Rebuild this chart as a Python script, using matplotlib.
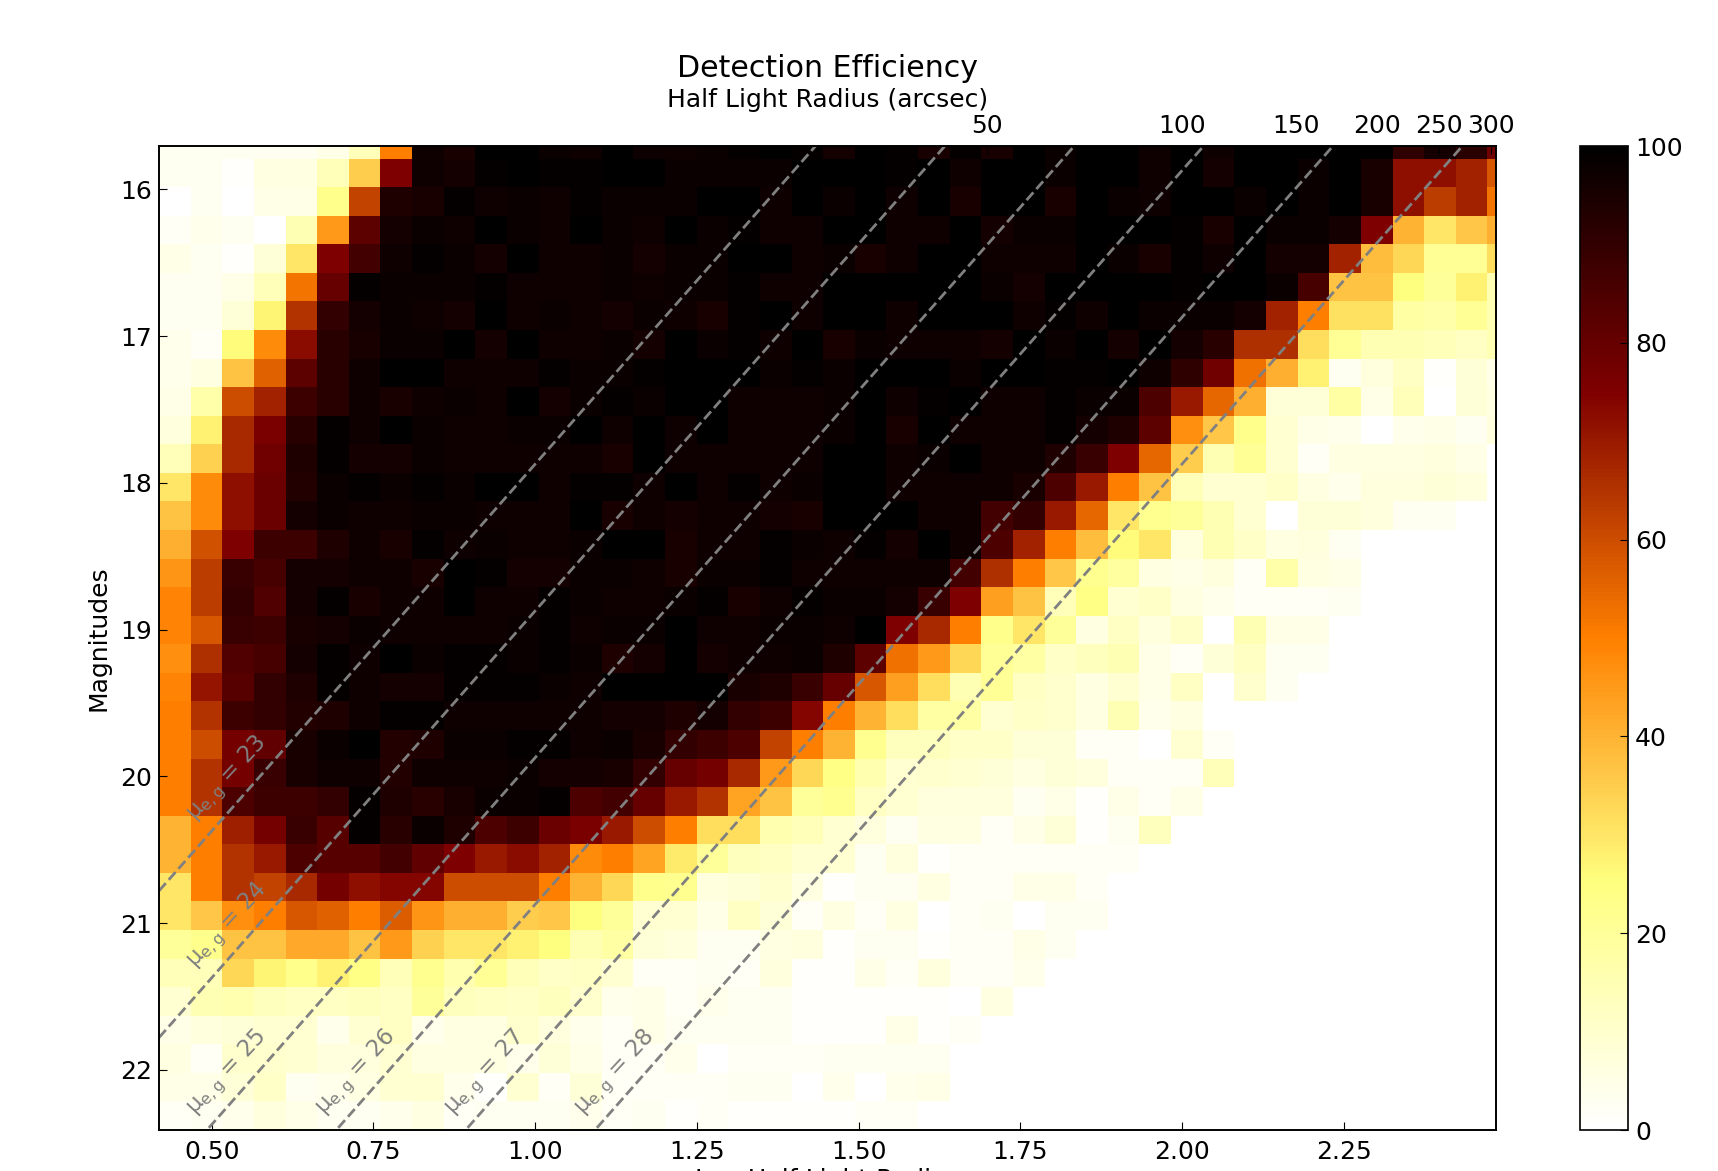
import numpy as np
import matplotlib
matplotlib.use('Agg')
import matplotlib.pyplot as plt

# Detection efficiency (percent), top row first
efficiency = np.array([
    [3,3,3,3,3,5,14,50,97,95,100,100,98,97, 100,97,97,98,99,100,99,96,100,99,95,99,95,100,98, 100,100,97,100,97,100,100,100,100,100,91,96,92,78],
    [3,3,1,6,6,14,35,75,97,96,99,100,99,99, 100,100,98,98,98,98,100,100,100,99,100,97,100,100,98, 100,100,97,100,96,100,100,98,100,95,72,72,68,58],
    [0,3,0,5,5,23,62,94,95,99,97,98,97,99, 98,98,98,100,100,97,100,98,100,97,100,95,100,100,95, 100,98,97,100,100,98,100,98,100,95,72,63,68,52],
    [2,4,3,0,15,45,82,96,98,97,100,98,97,100, 98,97,100,98,99,97,97,100,100,97,97,100,96,98,98, 100,100,100,99,95,100,98,98,96,75,40,30,36,41],
    [5,3,1,8,30,75,87,97,99,98,96,100,97,97, 98,96,98,98,100,100,97,98,95,97,100,100,97,97,97, 100,98,95,99,97,100,96,96,68,38,33,21,21,32],
    [3,3,5,14,52,80,99,98,98,98,99,97,97,97, 98,97,98,98,99,97,97,100,100,100,100,100,98,96,100, 100,100,100,99,100,100,98,86,37,37,25,20,28,15],
    [3,3,8,27,65,90,96,98,97,96,100,97,98,97, 96,98,97,95,99,100,97,100,100,97,100,100,100,97,99, 97,100,98,98,98,96,68,50,31,31,18,17,21,15],
    [4,2,26,48,73,92,95,98,98,100,96,100,97,97, 98,96,100,98,99,97,100,95,98,97,97,97,96,100,98, 100,96,100,96,92,66,66,32,21,15,15,14,12,15],
    [4,6,37,56,82,92,97,100,100,97,97,97,99,98, 98,99,100,100,100,98,99,98,100,100,100,98,100,100,99, 99,100,97,91,78,53,41,28,3,7,12,1,8,5],
    [5,17,60,68,88,92,97,95,97,98,97,100,96,98, 99,98,100,100,97,97,97,98,100,97,99,100,97,97,99, 98,98,85,70,55,41,8,8,18,5,14,0,8,6],
    [7,28,67,76,92,99,97,100,98,97,97,98,98,100, 97,100,97,100,97,97,97,98,100,95,100,97,97,97,99, 96,94,82,47,36,23,9,5,4,0,4,5,3,7],
    [14,34,67,78,94,99,96,96,98,97,97,97,97,97, 95,100,97,97,97,97,97,100,100,97,98,100,97,97,94, 89,75,55,35,15,21,9,2,6,6,6,7,5,0],
    [30,48,72,79,93,98,99,98,99,98,100,100,97,99, 99,97,100,97,99,97,98,100,100,97,97,97,97,95,85, 70,50,37,14,9,9,11,6,4,7,7,8,7,0],
    [37,48,72,79,96,98,97,97,98,98,97,97,97,100, 95,97,96,97,97,96,95,100,100,100,97,97,87,90,70, 55,30,22,20,15,9,0,8,8,7,3,3,0,0],
    [41,59,75,88,88,94,97,95,99,97,98,97,97,98, 100,100,95,97,97,99,98,97,99,96,100,97,85,68,50, 38,26,30,7,15,11,6,7,3,0,0,0,0,0],
    [46,63,89,86,96,96,97,97,95,100,99,96,96,98, 98,97,95,98,98,99,97,97,97,97,97,87,66,50,36, 22,19,6,5,7,2,17,6,5,0,0,0,0,0],
    [49,63,90,84,96,99,95,97,97,100,97,97,99,98, 97,97,98,99,95,97,99,98,98,96,89,75,44,37,14, 24,9,11,6,4,2,2,2,3,0,0,0,0,0],
    [49,58,89,88,95,96,98,97,97,97,97,98,99,97, 98,98,100,97,97,98,98,97,100,75,67,50,23,30,20, 6,12,7,11,0,15,5,5,0,0,0,0,0,0],
    [47,66,84,86,96,99,97,100,98,99,99,98,99,98, 94,96,100,96,97,97,98,94,82,53,45,33,21,18,11, 13,15,5,2,8,12,3,3,0,0,0,0,0,0],
    [49,71,83,90,94,99,97,96,96,99,99,99,98,97, 100,100,100,100,95,94,89,80,58,44,32,15,21,12,10, 6,9,5,12,0,10,3,0,0,0,0,0,0,0],
    [50,65,88,90,93,94,97,99,99,97,97,97,97,97, 96,96,94,96,90,88,74,50,40,32,18,18,9,11,10, 6,15,4,6,0,0,0,0,0,0,0,0,0,0],
    [50,60,77,81,95,98,100,93,94,98,98,99,99,97, 98,95,90,88,85,62,50,40,22,13,13,11,11,8,8, 2,2,0,9,2,0,0,0,0,0,0,0,0,0],
    [50,65,77,89,95,97,97,93,97,97,97,98,96,96, 95,90,80,77,67,45,33,24,16,9,10,9,8,6,8, 7,2,2,2,14,0,0,0,0,0,0,0,0,0],
    [50,65,85,88,88,90,99,94,92,95,98,98,99,85, 87,80,70,65,43,37,20,22,12,9,7,7,7,3,5, 1,5,2,5,0,0,0,0,0,0,0,0,0,0],
    [40,50,69,77,89,83,99,92,98,94,85,88,79,76, 70,60,50,32,32,16,14,9,7,3,6,6,2,5,8, 1,3,13,0,0,0,0,0,0,0,0,0,0,0],
    [40,50,65,70,85,83,83,87,81,75,70,73,68,48, 50,43,29,20,13,12,9,9,3,7,1,2,2,2,2, 2,2,0,0,0,0,0,0,0,0,0,0,0,0],
    [30,50,65,62,67,77,72,74,74,60,60,60,50,40, 33,23,22,7,8,10,6,1,3,3,6,2,2,5,5, 2,0,0,0,0,0,0,0,0,0,0,0,0,0],
    [30,36,47,50,58,56,50,57,46,41,41,35,36,25, 20,9,9,5,12,8,2,6,2,6,0,2,3,0,3, 3,0,0,0,0,0,0,0,0,0,0,0,0,0],
    [20,23,37,37,42,42,37,45,34,30,30,28,25,15, 18,8,7,3,3,6,7,1,3,3,1,2,2,5,3, 0,0,0,0,0,0,0,0,0,0,0,0,0,0],
    [14,14,33,27,23,28,24,14,22,16,21,14,11,12, 9,2,2,3,2,7,1,1,5,2,7,2,2,4,0, 0,0,0,0,0,0,0,0,0,0,0,0,0,0],
    [9,15,16,13,12,12,13,12,20,13,12,11,13,10, 4,5,2,4,3,3,1,1,1,1,1,0,6,0,0, 0,0,0,0,0,0,0,0,0,0,0,0,0,0],
    [5,7,8,9,9,4,9,12,4,6,6,10,7,4, 2,5,3,3,3,3,1,1,1,5,1,2,0,0,0, 0,0,0,0,0,0,0,0,0,0,0,0,0,0],
    [6,2,10,10,9,7,7,9,6,6,6,4,8,5, 2,2,4,0,2,2,2,3,3,3,3,0,0,0,0, 0,0,0,0,0,0,0,0,0,0,0,0,0,0],
    [5,5,8,11,3,4,6,9,9,4,1,9,2,8, 2,2,2,2,3,3,0,4,0,4,5,0,0,0,0, 0,0,0,0,0,0,0,0,0,0,0,0,0,0],
    [2,3,4,7,5,3,3,4,6,2,3,3,3,4, 2,3,1,2,1,1,1,1,2,2,0,0,0,0,0, 0,0,0,0,0,0,0,0,0,0,0,0,0,0],
])

x_ticks = [0.5, 0.75, 1.0, 1.25, 1.5, 1.75, 2.0, 2.25]
x_tick_labels = ['0.50', '0.75', '1.00', '1.25', '1.50', '1.75', '2.00', '2.25']
y_ticks = [16, 17, 18, 19, 20, 21, 22]
arcsec_ticks = [50, 100, 150, 200, 250, 300]
cbar_ticks = [0, 20, 40, 60, 80, 100]

surface_brightness = [23, 24, 25, 26, 27, 28]
label_x = [0.483, 0.483, 0.483, 0.683, 0.883, 1.083]
mu_offset = 0.127

x_lim = (0.4185, 2.4856)
y_lim = (22.41, 15.705)
x_step = 0.0489
y_step = 0.1947

W, H = 1718, 1171
font_size = 18

plt.rcParams['font.size'] = font_size
plt.rcParams['axes.linewidth'] = 1.2
plt.rcParams['mathtext.default'] = 'regular'

fig = plt.figure(figsize=(W / 100, H / 100), dpi=100)
ax = fig.add_axes([159 / W, (H - 1130) / H, 1337 / W, 984 / H])
cax = fig.add_axes([1580 / W, (H - 1130) / H, 48 / W, 984 / H])

# bin edges, bottom row of the picture is the last row of the table
n_rows, n_cols = efficiency.shape
x_edges = x_lim[0] + x_step * np.arange(n_cols + 1)
y_edges = y_lim[0] - y_step * np.arange(n_rows + 1)[::-1]

mesh = ax.pcolormesh(x_edges, y_edges, efficiency, cmap='afmhot_r', vmin=0, vmax=100,
                     linewidth=0, rasterized=True)

# Lines of constant surface brightness
line_x = np.array(x_lim)
for mu, lx in zip(surface_brightness, label_x):
    ax.plot(line_x, mu - 5 * line_x - mu_offset, '--', color='gray', lw=2)
    ax.text(lx, mu - 5 * lx - mu_offset - 0.11, r'$\mu_{e,g}$ = %d' % mu, color='gray',
            fontsize=16.5, rotation=47, rotation_mode='anchor', ha='left', va='bottom')

ax.set_xlim(x_lim)
ax.set_ylim(y_lim)
ax.set_xticks(x_ticks)
ax.set_xticklabels(x_tick_labels)
ax.set_yticks(y_ticks)
ax.tick_params(direction='in', length=5.5, pad=7)
ax.tick_params(axis='y', pad=5)
ax.set_xlabel('Log Half Light Radius', labelpad=3)
ax.set_ylabel('Magnitudes', labelpad=7)

# Top axis in arcsec
ax2 = ax.twiny()
ax2.set_xlim(x_lim)
ax2.set_xticks(np.log10(arcsec_ticks))
ax2.set_xticklabels([str(t) for t in arcsec_ticks])
ax2.tick_params(direction='in', length=5.5, pad=6)
ax2.set_xlabel('Half Light Radius (arcsec)', labelpad=5)
ax2.set_title('Detection Efficiency', fontsize=21.6, y=1.0, pad=50)

cbar = fig.colorbar(mesh, cax=cax)
cbar.set_ticks(cbar_ticks)
cbar.ax.tick_params(direction='in', length=5.5, pad=5)

fig.savefig('out.png', dpi=100)
